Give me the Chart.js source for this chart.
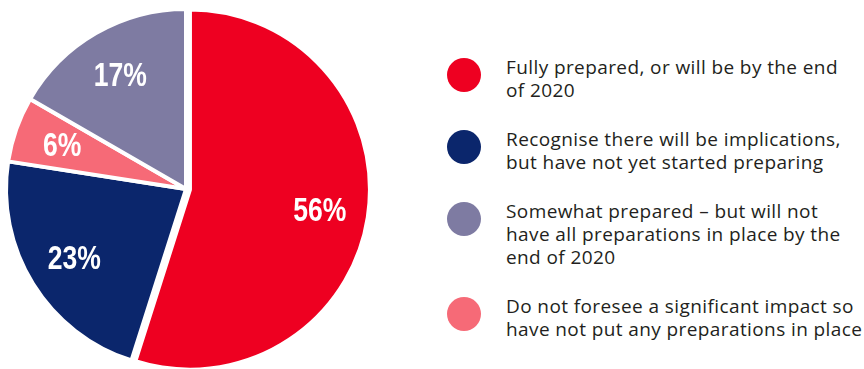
<!DOCTYPE html>
<html lang="en">
<head>
    <meta charset="UTF-8">
    <title>Preparedness</title>
    <script src="https://cdn.jsdelivr.net/npm/chart.js"></script>
    <style>
        html, body { margin: 0; padding: 0; background: #fff; overflow: hidden; }
        body { width: 864px; height: 369px; position: relative; }
        .pie-box { position: absolute; left: 0; top: 0; width: 372px; height: 378px; }
        .legend {
            position: absolute; left: 447px; top: 56px; width: 430px;
            display: flex; flex-direction: column; gap: 25px;
            font-family: "Open Sans", Lato, sans-serif; font-size: 19px;
            letter-spacing: 0.4px; line-height: 23.4px; color: #231f20;
        }
        .legend-item { display: flex; align-items: flex-start; }
        .legend-dot { width: 34px; height: 34px; border-radius: 50%; margin-top: 2px; margin-right: 25px; flex: none; }
        .legend-text { white-space: pre; }
    </style>
</head>
<body>
    <div class="pie-box"><canvas id="pie"></canvas></div>
    <div class="legend" id="legend"></div>
    <script>
        // slices in drawing order, clockwise from 12 o'clock
        const categories = [
            'Fully prepared, or will be by the end\nof 2020',
            'Recognise there will be implications,\nbut have not yet started preparing',
            'Do not foresee a significant impact so\nhave not put any preparations in place',
            'Somewhat prepared \u2013 but will not\nhave all preparations in place by the\nend of 2020'
        ];
        const values = [56, 23, 6, 17];
        const colors = ['#ee0021', '#0b266c', '#f66a77', '#7e7ba2'];
        // pull-out distance in px for each slice
        const pullOut = [4, 0, 0, 0];
        // legend shows the slices in this order
        const legendOrder = [0, 1, 3, 2];

        const legend = document.getElementById('legend');
        legendOrder.forEach(i => {
            const item = document.createElement('div');
            item.className = 'legend-item';
            const dot = document.createElement('span');
            dot.className = 'legend-dot';
            dot.style.background = colors[i];
            const txt = document.createElement('span');
            txt.className = 'legend-text';
            txt.textContent = categories[i];
            item.appendChild(dot);
            item.appendChild(txt);
            legend.appendChild(item);
        });

        // chart.js 'offset' also grows the radius of big slices, so shift them by hand
        const pullSlices = {
            id: 'pullSlices',
            afterUpdate(chart) {
                chart.getDatasetMeta(0).data.forEach((arc, i) => {
                    if (!pullOut[i] || arc._pulled) return;
                    const draw = arc.draw;
                    arc.draw = function (ctx) {
                        const mid = (this.startAngle + this.endAngle) / 2;
                        ctx.save();
                        ctx.translate(Math.cos(mid) * pullOut[i], Math.sin(mid) * pullOut[i]);
                        draw.call(this, ctx);
                        ctx.restore();
                    };
                    arc._pulled = true;
                });
            }
        };

        const pctLabels = {
            id: 'pctLabels',
            afterDatasetsDraw(chart) {
                const ctx = chart.ctx;
                const arcs = chart.getDatasetMeta(0).data;
                ctx.save();
                ctx.fillStyle = '#fff';
                ctx.font = 'bold 34px "Liberation Sans", Arial, sans-serif';
                ctx.textAlign = 'center';
                ctx.textBaseline = 'alphabetic';
                arcs.forEach((arc, i) => {
                    const mid = (arc.startAngle + arc.endAngle) / 2;
                    const r = arc.outerRadius * 0.73 + pullOut[i];
                    const x = arc.x + Math.cos(mid) * r;
                    const y = arc.y + Math.sin(mid) * r;
                    ctx.save();
                    ctx.translate(x, y + 11);
                    ctx.scale(0.78, 1);
                    ctx.fillText(values[i] + '%', 0, 0);
                    ctx.restore();
                });
                ctx.restore();
            }
        };

        new Chart(document.getElementById('pie'), {
            type: 'pie',
            data: {
                labels: categories,
                datasets: [{
                    data: values,
                    backgroundColor: colors,
                    borderColor: '#fff',
                    borderWidth: 4
                }]
            },
            options: {
                responsive: true,
                maintainAspectRatio: false,
                animation: false,
                radius: 180,
                layout: { padding: 0 },
                plugins: { legend: { display: false }, tooltip: { enabled: false } }
            },
            plugins: [pullSlices, pctLabels]
        });
    </script>
</body>
</html>
